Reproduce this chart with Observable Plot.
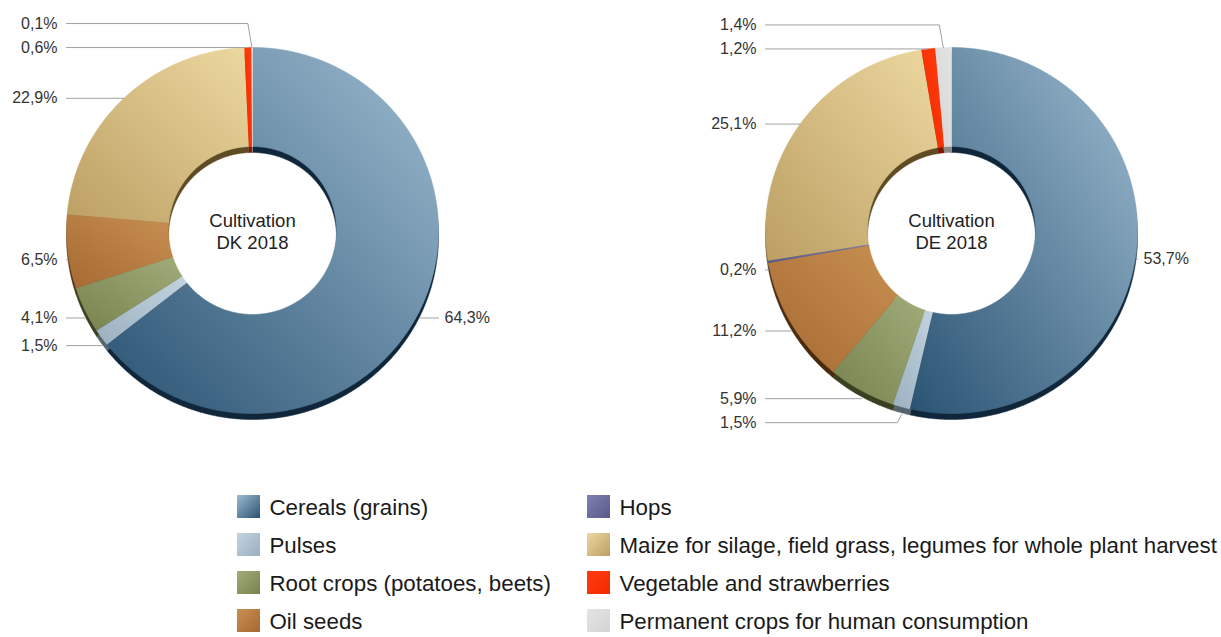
<!DOCTYPE html>
<html>
<head>
<meta charset="utf-8">
<script src="https://cdn.jsdelivr.net/npm/d3@7"></script>
<script src="https://cdn.jsdelivr.net/npm/@observablehq/plot@0.6"></script>
<style>
  html, body { margin: 0; padding: 0; background: #fff; }
  #chart svg { font-family: "Liberation Sans", Arial, sans-serif; display: block; }
</style>
</head>
<body>
<div id="chart"></div>
<script>
// ---------- data ----------
const categories = [
  "Cereals (grains)",
  "Pulses",
  "Root crops (potatoes, beets)",
  "Oil seeds",
  "Hops",
  "Maize for silage, field grass, legumes for whole plant harvest",
  "Vegetable and strawberries",
  "Permanent crops for human consumption"
];
const dkValues = [64.3, 1.5, 4.1, 6.5, 0, 22.9, 0.6, 0.1];
const deValues = [53.7, 1.5, 5.9, 11.2, 0.2, 25.1, 1.2, 1.4];
const chartTitles = ["Cultivation\nDK 2018", "Cultivation\nDE 2018"];

// ---------- styles ----------
const gradLight = ["#9dbbd0", "#c3d3df", "#a2ac7a", "#c88f52", "#8282b0", "#ecd8a0", "#ff3c0c", "#e4e4e4"];
const gradDark  = ["#2a5373", "#9bb0c0", "#78824f", "#a66a32", "#58588a", "#bc9f63", "#f22a00", "#d4d4d4"];
const rimColors = ["#10263a", "#56626c", "#394020", "#4a2a0e", "#2e2e50", "#5e4b24", "#7e1800", "#8a8a8a"];

const W = 1221, H = 637;
const CY = 230, RX = 186, RY = 183, RIN = 84, SHADOW = 6, GAP = 24;
const centers = [252, 951];
const datasets = [dkValues, deValues];

const fmt = v => d3.format(".1f")(v).replace(".", ",") + "%";

const slicePts = [], shadowPts = [], labels = [];
datasets.forEach((values, di) => {
  const cx = centers[di];
  const arcs = d3.pie().sort(null).value(d => d)(values);
  arcs.forEach((a, i) => {
    if (a.value <= 0) return;
    const key = di + "-" + i;
    const span = a.endAngle - a.startAngle;
    const n = Math.max(2, Math.ceil(span / (Math.PI / 360)));
    const pts = [];
    for (let k = 0; k <= n; k++) {
      const t = a.startAngle + span * k / n;
      pts.push([cx + RX * Math.sin(t), CY - RY * Math.cos(t)]);
    }
    for (let k = n; k >= 0; k--) {
      const t = a.startAngle + span * k / n;
      pts.push([cx + RIN * Math.sin(t), CY - RIN * Math.cos(t)]);
    }
    pts.forEach(([x, y]) => {
      slicePts.push({key, x, y, fill: `url(#grad${i})`});
      shadowPts.push({key, x, y: y + SHADOW, fill: rimColors[i]});
    });
    const mid = (a.startAngle + a.endAngle) / 2;
    const ax = cx + RX * Math.sin(mid);
    const ay0 = CY - RY * Math.cos(mid) + (Math.cos(mid) < 0.1 ? 8 : 0);
    labels.push({
      donut: di, key, mid, cx, ax, ay0, ly: ay0,
      side: Math.sin(mid) < 0 ? "left" : "right",
      text: fmt(a.value)
    });
  });
});

// avoid label collisions per donut / side
[0, 1].forEach(di => ["left", "right"].forEach(side => {
  const ls = labels.filter(l => l.donut === di && l.side === side)
    .sort((a, b) => (a.ly - b.ly) || (b.mid - a.mid));
  const upper = ls.filter(l => l.ly < CY), lower = ls.filter(l => l.ly >= CY);
  for (let j = upper.length - 2; j >= 0; j--)
    if (upper[j].ly > upper[j + 1].ly - GAP) upper[j].ly = upper[j + 1].ly - GAP;
  for (let j = 1; j < lower.length; j++)
    if (lower[j].ly < lower[j - 1].ly + GAP) lower[j].ly = lower[j - 1].ly + GAP;
}));

// leader lines
const leaderPts = [];
labels.forEach(l => {
  const dir = l.side === "left" ? -1 : 1;
  const edge = l.cx + dir * RX;
  leaderPts.push({key: l.key, x: edge, y: l.ly});
  if (Math.abs(l.ly - l.ay0) > 1) {
    leaderPts.push({key: l.key, x: l.ax + dir * 4, y: l.ly});
    leaderPts.push({key: l.key, x: l.ax, y: l.ay0});
  } else {
    leaderPts.push({key: l.key, x: l.ax, y: l.ly});
  }
});

const centerText = centers.map((cx, i) => ({cx, text: chartTitles[i]}));
const legendItems = categories.map((c, i) => ({
  c, i,
  x1: 237 + Math.floor(i / 4) * 350,
  y1: 495 + (i % 4) * 38
}));

// gradient definitions
const defsMark = () => {
  const defs = d3.create("svg:defs");
  categories.forEach((c, i) => {
    const g = defs.append("linearGradient").attr("id", "grad" + i)
      .attr("x1", 0).attr("y1", 1).attr("x2", 1).attr("y2", 0);
    g.append("stop").attr("offset", "0%").attr("stop-color", gradDark[i]);
    g.append("stop").attr("offset", "100%").attr("stop-color", gradLight[i]);
    const s = defs.append("linearGradient").attr("id", "sw" + i)
      .attr("x1", 0).attr("y1", 0).attr("x2", 1).attr("y2", 1);
    s.append("stop").attr("offset", "0%").attr("stop-color", gradLight[i]);
    s.append("stop").attr("offset", "100%").attr("stop-color", gradDark[i]);
  });
  return defs.node();
};

const chart = Plot.plot({
  width: W,
  height: H,
  margin: 0,
  axis: null,
  x: {type: "identity"},
  y: {type: "identity"},
  color: {type: "identity"},
  style: {background: "#fff", fontFamily: "'Liberation Sans', Arial, sans-serif"},
  marks: [
    defsMark,
    Plot.line(shadowPts, {x: "x", y: "y", z: "key", fill: "fill", stroke: "fill", strokeWidth: 0.5}),
    Plot.line(slicePts, {x: "x", y: "y", z: "key", fill: "fill", stroke: "fill", strokeWidth: 0.6}),
    Plot.line(leaderPts, {x: "x", y: "y", z: "key", stroke: "#a0a0a0", strokeWidth: 1}),
    Plot.text(labels.filter(l => l.side === "left"), {
      x: l => l.cx - RX - 9, y: "ly", text: "text", textAnchor: "end",
      fontSize: 16, fill: "#333"
    }),
    Plot.text(labels.filter(l => l.side === "right"), {
      x: l => l.cx + RX + 6, y: "ly", text: "text", textAnchor: "start",
      fontSize: 16, fill: "#333"
    }),
    Plot.text(centerText, {
      x: "cx", y: () => CY, text: "text", fontSize: 18.5, lineHeight: 1.2, fill: "#222"
    }),
    Plot.rect(legendItems, {
      x1: "x1", x2: d => d.x1 + 23, y1: "y1", y2: d => d.y1 + 23,
      fill: d => `url(#sw${d.i})`
    }),
    Plot.text(legendItems, {
      x: d => d.x1 + 32, y: d => d.y1 + 12, text: "c", textAnchor: "start",
      fontSize: 22.3, fill: "#1a1a1a"
    })
  ]
});
document.getElementById("chart").appendChild(chart);
</script>
</body>
</html>
